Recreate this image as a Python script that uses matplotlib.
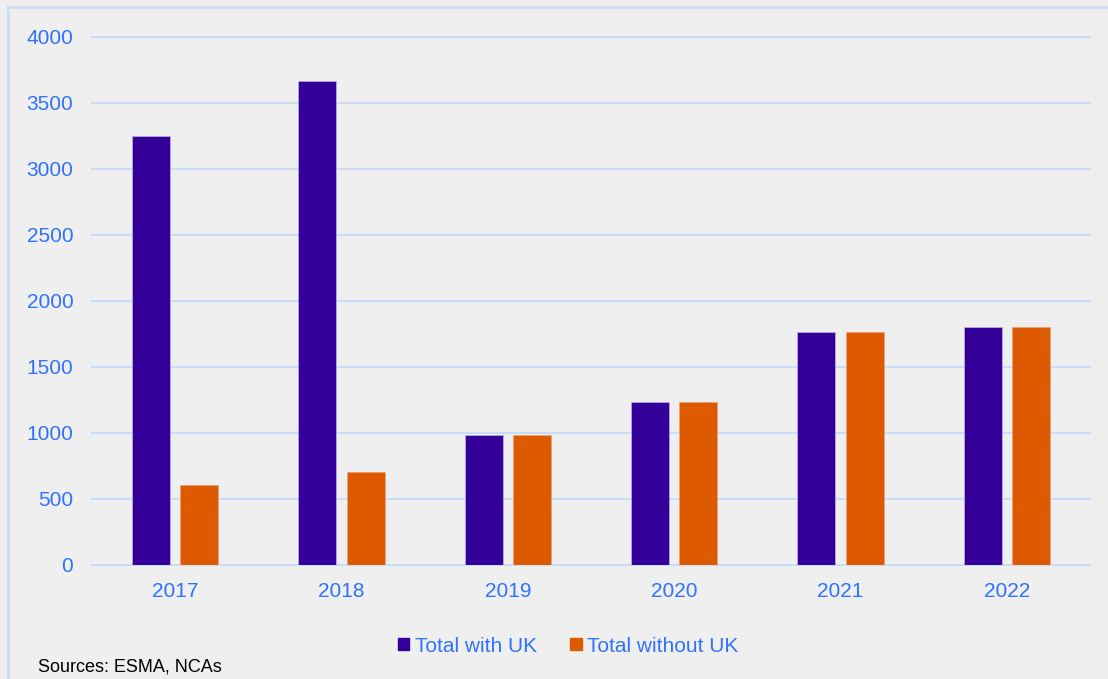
import matplotlib
matplotlib.use("Agg")
import matplotlib.pyplot as plt
import matplotlib.patches as mpatches
import matplotlib.lines as mlines
import numpy as np

# ── Data ──────────────────────────────────────────────────────────────────────
years = ["2017", "2018", "2019", "2020", "2021", "2022"]
with_uk = [3250, 3665, 985, 1235, 1765, 1805]
without_uk = [605, 705, 985, 1235, 1765, 1805]
series_labels = ["Total with UK", "Total without UK"]
source_note = "Sources: ESMA, NCAs"

# ── Style ─────────────────────────────────────────────────────────────────────
BG = "#efefef"
PURPLE = "#330099"
ORANGE = "#dd5a00"
TEXT_BLUE = "#2f72ff"
GRID = "#c9dcf8"

plt.rcParams["font.family"] = ["Liberation Sans", "DejaVu Sans"]

W, H = 1108, 679
fig = plt.figure(figsize=(W / 100, H / 100), dpi=100, facecolor=BG)
ax = fig.add_axes([92 / W, 1 - 565 / H, (1090 - 92) / W, (565 - 37) / H])
ax.set_facecolor(BG)

# outer light-blue frame: top and left edges only
fig.add_artist(mlines.Line2D([8 / W, 1], [1 - 7 / H, 1 - 7 / H],
                             transform=fig.transFigure, color=GRID, linewidth=2))
fig.add_artist(mlines.Line2D([8 / W, 8 / W], [0, 1 - 7 / H],
                             transform=fig.transFigure, color=GRID, linewidth=2))

x = np.arange(len(years))
width = 0.228
off = 0.145
ax.bar(x - off, with_uk, width, color=PURPLE, edgecolor="#b9a6df", linewidth=0.6,
       label=series_labels[0], zorder=3)
ax.bar(x + off, without_uk, width, color=ORANGE, edgecolor="#eca07a", linewidth=0.6,
       label=series_labels[1], zorder=3)

ax.set_xlim(-0.5, len(years) - 0.5)
ax.set_ylim(0, 4000)
ax.set_yticks(np.arange(0, 4001, 500))
ax.set_xticks(x)
ax.set_xticklabels(years)
ax.yaxis.grid(True, color=GRID, linewidth=1.5, zorder=0)
for gl in ax.get_ygridlines():
    gl.set_clip_on(False)
ax.set_axisbelow(True)
for s in ax.spines.values():
    s.set_visible(False)
ax.tick_params(axis="both", length=0, labelsize=15, labelcolor=TEXT_BLUE)
ax.tick_params(axis="y", pad=13.5)
ax.tick_params(axis="x", pad=12)

handles = [
    mpatches.Patch(color=PURPLE, label=series_labels[0]),
    mpatches.Patch(color=ORANGE, label=series_labels[1]),
]
leg = fig.legend(handles=handles, loc="center", bbox_to_anchor=(568 / W, 1 - 646 / H),
                 ncol=2, frameon=False, fontsize=15, handlelength=0.55, handleheight=0.55,
                 handletextpad=0.25, columnspacing=1.6)
for t in leg.get_texts():
    t.set_color(TEXT_BLUE)

fig.text(38 / W, 1 - 667 / H, source_note, fontsize=13, color="black",
         va="center", ha="left")

fig.savefig("out.png", dpi=100, facecolor=BG)
